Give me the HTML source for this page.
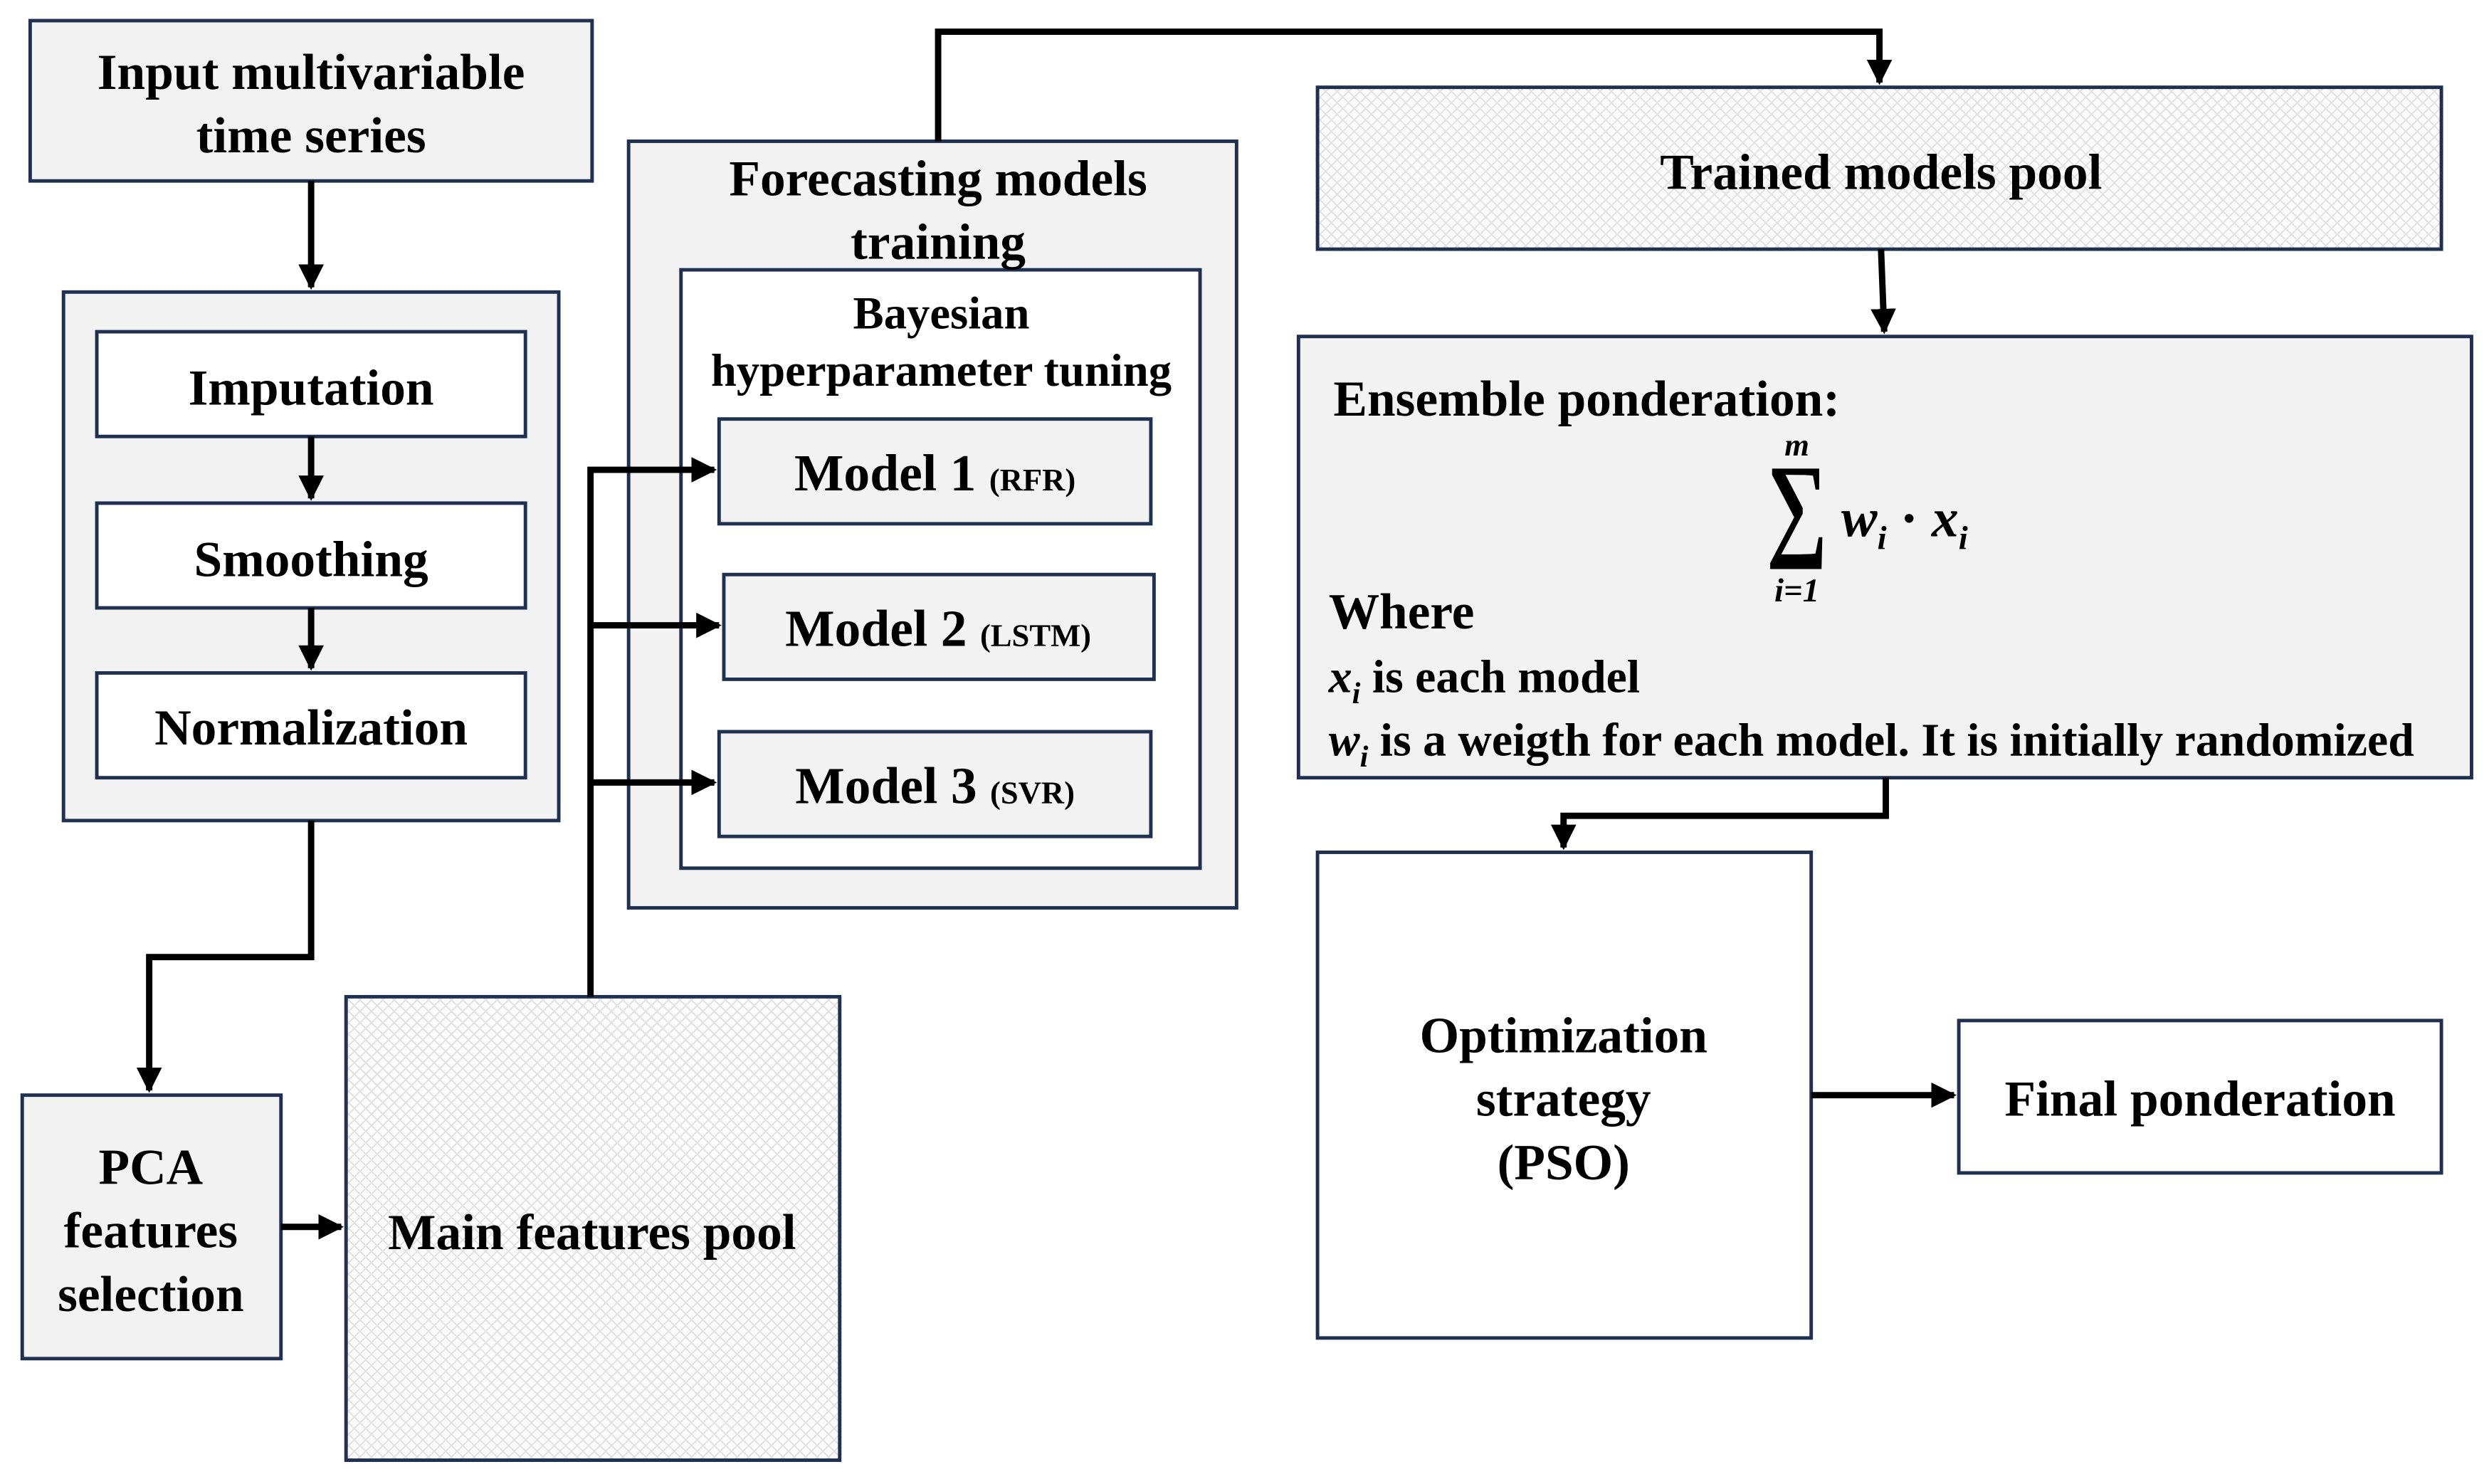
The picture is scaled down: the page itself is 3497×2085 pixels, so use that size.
<!DOCTYPE html>
<html><head><meta charset="utf-8"><style>
html,body{margin:0;padding:0;background:#fff;}
svg{display:block;}
text{font-family:"Liberation Serif",serif;font-weight:bold;fill:#000;}
</style></head><body>
<svg width="3497" height="2085" viewBox="0 0 1568 935" preserveAspectRatio="none" xmlns="http://www.w3.org/2000/svg">
<defs>
<pattern id="hatch" width="7.2" height="7.2" patternUnits="userSpaceOnUse">
<rect width="7.2" height="7.2" fill="#fbfbfb"/>
<path d="M0,0 L7.2,7.2 M7.2,0 L0,7.2" stroke="#e2e2e2" stroke-width="0.9"/>
</pattern>
<marker id="ah" markerWidth="4" markerHeight="4" refX="3.6" refY="2" orient="auto" markerUnits="strokeWidth">
<path d="M0,0 L4,2 L0,4 z" fill="#000"/>
</marker>
</defs>
<g stroke="#1f3050" stroke-width="2.2">
<rect x="19" y="13" width="354" height="101" fill="#f2f2f2"/>
<rect x="40" y="184" width="312" height="333" fill="#f2f2f2"/>
<rect x="61" y="209" width="270" height="66" fill="#fff"/>
<rect x="61" y="317" width="270" height="66" fill="#fff"/>
<rect x="61" y="424" width="270" height="66" fill="#fff"/>
<rect x="14" y="690" width="163" height="166" fill="#f2f2f2"/>
<rect x="218" y="628" width="311" height="292" fill="url(#hatch)"/>
<rect x="396" y="89" width="383" height="483" fill="#f2f2f2"/>
<rect x="429" y="170" width="327" height="377" fill="#fff"/>
<rect x="453" y="264" width="272" height="66" fill="#f2f2f2"/>
<rect x="456" y="362" width="271" height="66" fill="#f2f2f2"/>
<rect x="453" y="461" width="272" height="66" fill="#f2f2f2"/>
<rect x="830" y="55" width="708" height="102" fill="url(#hatch)"/>
<rect x="818" y="212" width="739" height="278" fill="#f2f2f2"/>
<rect x="830" y="537" width="311" height="306" fill="#fff"/>
<rect x="1234" y="643" width="304" height="96" fill="#fff"/>
</g>
<g stroke="#000" stroke-width="4" fill="none">
<path d="M196,114 V181" marker-end="url(#ah)"/>
<path d="M196,275 V314" marker-end="url(#ah)"/>
<path d="M196,383 V421" marker-end="url(#ah)"/>
<path d="M196,517 V603 H94 V687" marker-end="url(#ah)"/>
<path d="M177,773 H215" marker-end="url(#ah)"/>
<path d="M372,628 V296 H450" marker-end="url(#ah)"/>
<path d="M372,394 H453" marker-end="url(#ah)"/>
<path d="M372,493 H450" marker-end="url(#ah)"/>
<path d="M591,89 V20 H1184 V52" marker-end="url(#ah)"/>
<path d="M1185,157 L1187,209" marker-end="url(#ah)"/>
<path d="M1188,490 V514 H985 V534" marker-end="url(#ah)"/>
<path d="M1141,690 H1231" marker-end="url(#ah)"/>
</g>
<g font-size="32" text-anchor="middle">
<text x="196" y="56">Input multivariable</text>
<text x="196" y="96">time series</text>
<text x="196" y="255">Imputation</text>
<text x="196" y="363">Smoothing</text>
<text x="196" y="469">Normalization</text>
<text x="95" y="746">PCA</text>
<text x="95" y="786">features</text>
<text x="95" y="826">selection</text>
<text x="373" y="787">Main features pool</text>
<text x="591" y="123">Forecasting models</text>
<text x="591" y="163">training</text>
<text x="1185" y="119">Trained models pool</text>
<text x="985" y="663">Optimization</text>
<text x="985" y="703">strategy</text>
<text x="985" y="743">(PSO)</text>
<text x="1386" y="703">Final ponderation</text>
</g>
<g font-size="29" text-anchor="middle">
<text x="593" y="207">Bayesian</text>
<text x="593" y="243">hyperparameter tuning</text>
</g>
<g font-size="33" text-anchor="middle">
<text x="589" y="309">Model 1 <tspan font-size="20">(RFR)</tspan></text>
<text x="591" y="407">Model 2 <tspan font-size="20">(LSTM)</tspan></text>
<text x="589" y="506">Model 3 <tspan font-size="20">(SVR)</tspan></text>
</g>
<g font-size="32">
<text x="840" y="262">Ensemble ponderation:</text>
<text x="837" y="396">Where</text>
</g>
<g font-size="29.5">
<text x="837" y="436"><tspan font-style="italic">x</tspan><tspan font-style="italic" font-size="19" dy="7">i</tspan><tspan dy="-7"> is each model</tspan></text>
<text x="837" y="476"><tspan font-style="italic">w</tspan><tspan font-style="italic" font-size="19" dy="7">i</tspan><tspan dy="-7"> is a weigth for each model. It is initially randomized</tspan></text>
</g>
<g text-anchor="middle">
<text x="1132" y="287" font-size="20" font-style="italic">m</text>
<text transform="translate(1132,343) scale(1,1.35)" font-size="54" font-weight="normal">∑</text>
<text x="1132" y="379" font-size="21" font-style="italic">i=1</text>
</g>
<text x="1160" y="338" font-size="34" font-style="italic">w<tspan font-size="21" dy="8">i</tspan><tspan dy="-8" font-style="normal"> · </tspan>x<tspan font-size="21" dy="8">i</tspan></text>
</svg>
</body></html>
